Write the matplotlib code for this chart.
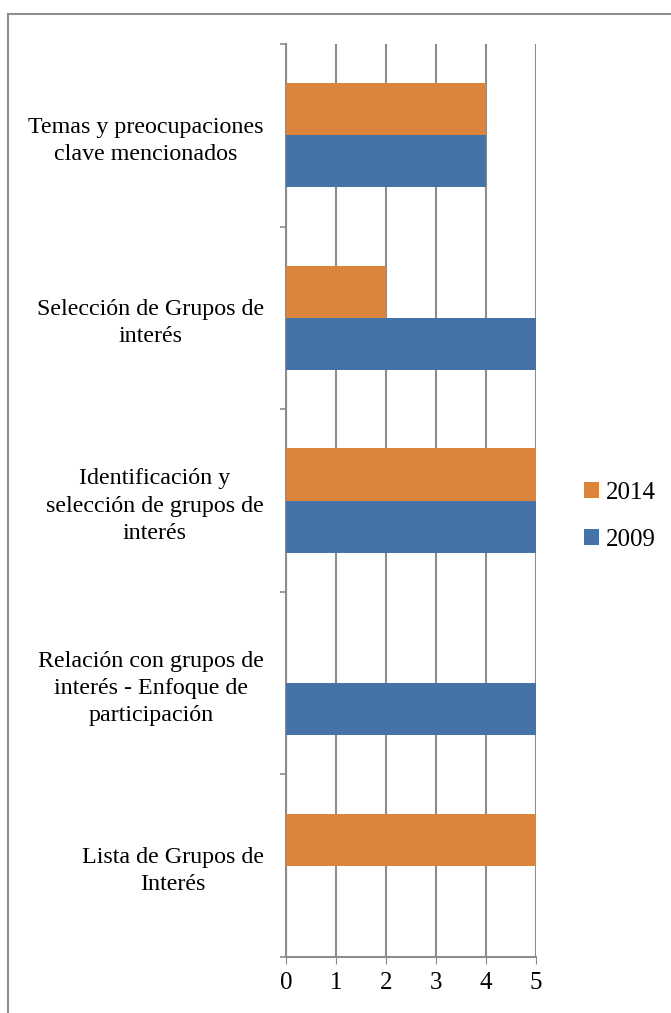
import numpy as np
import matplotlib.pyplot as plt
from matplotlib.patches import Rectangle

plt.rcParams['font.family'] = ['Liberation Serif', 'DejaVu Serif']

# categories from bottom to top
categorias = [
    'Lista de Grupos de\nInterés',
    'Relación con grupos de\ninterés - Enfoque de\nparticipación',
    'Identificación y\nselección de grupos de\ninterés',
    'Selección de Grupos de\ninterés',
    'Temas y preocupaciones\nclave mencionados',
]
valores_2009 = [0, 5, 5, 5, 4]
valores_2014 = [5, 0, 5, 2, 4]
x_ticks = [0, 1, 2, 3, 4, 5]

color_2014 = '#DB843D'
color_2009 = '#4572A7'
gris = '#8C8C8C'

fig = plt.figure(figsize=(6.71, 10.13), dpi=100)
ax = fig.add_axes([286 / 671, 56 / 1013, 250 / 671, 913 / 1013])

y = np.arange(len(categorias))
h = 1 / 3.5
ax.barh(y - h / 2, valores_2009, height=h, color=color_2009, label='2009', zorder=3)
ax.barh(y + h / 2, valores_2014, height=h, color=color_2014, label='2014', zorder=3)

ax.set_xlim(0, 5)
ax.set_ylim(-0.5, len(categorias) - 0.5)
ax.set_xticks(x_ticks)
ax.set_xticklabels([str(t) for t in x_ticks], fontsize=18)
ax.tick_params(axis='x', direction='out', length=5, color=gris, pad=6)

ax.set_yticks(y)
ax.set_yticklabels(categorias, fontsize=17.3, multialignment='center', linespacing=1.38)
ax.set_yticks(np.arange(-0.5, len(categorias)), minor=True)
ax.tick_params(axis='y', which='major', length=0, pad=16)
ax.tick_params(axis='y', which='minor', direction='out', length=4, color=gris, width=1.2)

ax.grid(axis='x', color=gris, linewidth=1.5, zorder=0)
ax.set_axisbelow(True)
for s in ['top', 'right']:
    ax.spines[s].set_visible(False)
for s in ['left', 'bottom']:
    ax.spines[s].set_color(gris)
    ax.spines[s].set_linewidth(1.5)

handles, labels = ax.get_legend_handles_labels()
fig.legend(handles[::-1], labels[::-1], loc='center left',
           bbox_to_anchor=(561 / 671, 1 - 516 / 1013), frameon=False,
           fontsize=18, handlelength=0.6, handleheight=0.6,
           handletextpad=0.3, labelspacing=1.0)

# outer border of the chart area
fig.patches.append(Rectangle((8 / 671, -0.1), 1.2, 1.1 - 14 / 1013,
                             transform=fig.transFigure, fill=False,
                             edgecolor=gris, linewidth=1.5))

fig.savefig('out.png', dpi=100)
